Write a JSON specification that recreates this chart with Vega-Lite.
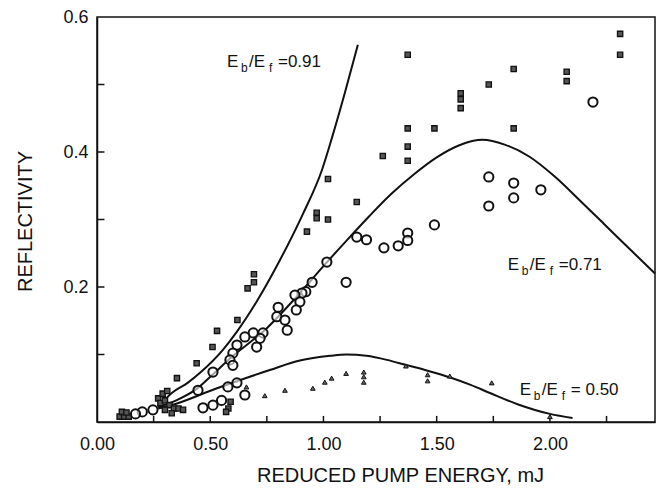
{
  "$schema": "https://vega.github.io/schema/vega-lite/v6.json",
  "width": 558,
  "height": 405,
  "autosize": {"type": "none"},
  "padding": {"left": 97, "top": 17, "right": 8, "bottom": 67},
  "background": "white",
  "config": {
    "view": {"stroke": "#111", "strokeWidth": 1.5},
    "axis": {"domainColor": "#111", "domainWidth": 1.5, "ticks": false, "grid": false,
      "labelFont": "Liberation Sans", "labelFontSize": 18, "labelColor": "#111",
      "titleFont": "Liberation Sans", "titleFontSize": 20, "titleFontWeight": "normal", "titleColor": "#111"}
  },
  "datasets": {
    "points": [
      {"sym": "square", "x": 1.372, "y": 0.544}, {"sym": "square", "x": 1.84, "y": 0.523}, {"sym": "square", "x": 1.73, "y": 0.50},
      {"sym": "square", "x": 2.074, "y": 0.519}, {"sym": "square", "x": 2.074, "y": 0.505}, {"sym": "square", "x": 2.31, "y": 0.575},
      {"sym": "square", "x": 2.31, "y": 0.544}, {"sym": "square", "x": 1.606, "y": 0.487}, {"sym": "square", "x": 1.606, "y": 0.478},
      {"sym": "square", "x": 1.606, "y": 0.465}, {"sym": "square", "x": 1.372, "y": 0.435}, {"sym": "square", "x": 1.49, "y": 0.435},
      {"sym": "square", "x": 1.84, "y": 0.435}, {"sym": "square", "x": 1.372, "y": 0.408}, {"sym": "square", "x": 1.372, "y": 0.387},
      {"sym": "square", "x": 1.262, "y": 0.394}, {"sym": "square", "x": 1.147, "y": 0.326}, {"sym": "square", "x": 1.02, "y": 0.36},
      {"sym": "square", "x": 0.97, "y": 0.31}, {"sym": "square", "x": 0.97, "y": 0.302}, {"sym": "square", "x": 1.02, "y": 0.30},
      {"sym": "square", "x": 0.927, "y": 0.282}, {"sym": "square", "x": 0.693, "y": 0.219}, {"sym": "square", "x": 0.693, "y": 0.207},
      {"sym": "square", "x": 0.665, "y": 0.198}, {"sym": "square", "x": 0.62, "y": 0.151}, {"sym": "square", "x": 0.53, "y": 0.135},
      {"sym": "square", "x": 0.51, "y": 0.111}, {"sym": "square", "x": 0.44, "y": 0.087}, {"sym": "square", "x": 0.353, "y": 0.065},
      {"sym": "square", "x": 0.10, "y": 0.008}, {"sym": "square", "x": 0.12, "y": 0.008}, {"sym": "square", "x": 0.14, "y": 0.008},
      {"sym": "square", "x": 0.11, "y": 0.015}, {"sym": "square", "x": 0.13, "y": 0.014}, {"sym": "square", "x": 0.27, "y": 0.035},
      {"sym": "square", "x": 0.29, "y": 0.042}, {"sym": "square", "x": 0.31, "y": 0.046}, {"sym": "square", "x": 0.28, "y": 0.028},
      {"sym": "square", "x": 0.30, "y": 0.032}, {"sym": "square", "x": 0.32, "y": 0.025}, {"sym": "square", "x": 0.30, "y": 0.018},
      {"sym": "square", "x": 0.34, "y": 0.02}, {"sym": "square", "x": 0.36, "y": 0.02}, {"sym": "square", "x": 0.38, "y": 0.018},
      {"sym": "square", "x": 0.33, "y": 0.013}, {"sym": "square", "x": 0.58, "y": 0.02}, {"sym": "square", "x": 0.59, "y": 0.03},
      {"sym": "square", "x": 0.57, "y": 0.015},
      {"sym": "circle", "x": 2.19, "y": 0.474}, {"sym": "circle", "x": 1.73, "y": 0.363}, {"sym": "circle", "x": 1.84, "y": 0.354},
      {"sym": "circle", "x": 1.84, "y": 0.332}, {"sym": "circle", "x": 1.96, "y": 0.344}, {"sym": "circle", "x": 1.73, "y": 0.32},
      {"sym": "circle", "x": 1.49, "y": 0.292}, {"sym": "circle", "x": 1.147, "y": 0.274}, {"sym": "circle", "x": 1.19, "y": 0.27},
      {"sym": "circle", "x": 1.267, "y": 0.258}, {"sym": "circle", "x": 1.33, "y": 0.261}, {"sym": "circle", "x": 1.372, "y": 0.28},
      {"sym": "circle", "x": 1.372, "y": 0.269}, {"sym": "circle", "x": 1.10, "y": 0.207}, {"sym": "circle", "x": 1.015, "y": 0.237},
      {"sym": "circle", "x": 0.95, "y": 0.207}, {"sym": "circle", "x": 0.922, "y": 0.193}, {"sym": "circle", "x": 0.905, "y": 0.191},
      {"sym": "circle", "x": 0.874, "y": 0.188}, {"sym": "circle", "x": 0.896, "y": 0.178}, {"sym": "circle", "x": 0.88, "y": 0.166},
      {"sym": "circle", "x": 0.80, "y": 0.17}, {"sym": "circle", "x": 0.794, "y": 0.156}, {"sym": "circle", "x": 0.83, "y": 0.151},
      {"sym": "circle", "x": 0.84, "y": 0.136}, {"sym": "circle", "x": 0.733, "y": 0.132}, {"sym": "circle", "x": 0.72, "y": 0.124},
      {"sym": "circle", "x": 0.69, "y": 0.132}, {"sym": "circle", "x": 0.653, "y": 0.126}, {"sym": "circle", "x": 0.618, "y": 0.114},
      {"sym": "circle", "x": 0.705, "y": 0.111}, {"sym": "circle", "x": 0.60, "y": 0.102}, {"sym": "circle", "x": 0.587, "y": 0.092},
      {"sym": "circle", "x": 0.60, "y": 0.084}, {"sym": "circle", "x": 0.512, "y": 0.074}, {"sym": "circle", "x": 0.446, "y": 0.047},
      {"sym": "circle", "x": 0.247, "y": 0.018}, {"sym": "circle", "x": 0.20, "y": 0.015}, {"sym": "circle", "x": 0.17, "y": 0.012},
      {"sym": "circle", "x": 0.468, "y": 0.021}, {"sym": "circle", "x": 0.512, "y": 0.025}, {"sym": "circle", "x": 0.578, "y": 0.052},
      {"sym": "circle", "x": 0.618, "y": 0.058}, {"sym": "circle", "x": 0.653, "y": 0.04}, {"sym": "circle", "x": 0.55, "y": 0.032},
      {"sym": "triangle", "x": 0.741, "y": 0.039}, {"sym": "triangle", "x": 0.83, "y": 0.047}, {"sym": "triangle", "x": 0.953, "y": 0.05},
      {"sym": "triangle", "x": 1.006, "y": 0.059}, {"sym": "triangle", "x": 1.036, "y": 0.065}, {"sym": "triangle", "x": 1.10, "y": 0.072},
      {"sym": "triangle", "x": 1.178, "y": 0.074}, {"sym": "triangle", "x": 1.178, "y": 0.067}, {"sym": "triangle", "x": 1.178, "y": 0.059},
      {"sym": "triangle", "x": 1.364, "y": 0.083}, {"sym": "triangle", "x": 1.46, "y": 0.07}, {"sym": "triangle", "x": 1.46, "y": 0.061},
      {"sym": "triangle", "x": 1.558, "y": 0.068}, {"sym": "triangle", "x": 1.743, "y": 0.058}, {"sym": "triangle", "x": 2.0, "y": 0.008},
      {"sym": "triangle", "x": 0.66, "y": 0.052}
    ],
    "curves": [
      {"c": "0.91", "x": 0.27, "y": 0.022}, {"c": "0.91", "x": 0.33, "y": 0.043}, {"c": "0.91", "x": 0.40, "y": 0.058},
      {"c": "0.91", "x": 0.455, "y": 0.073}, {"c": "0.91", "x": 0.556, "y": 0.107}, {"c": "0.91", "x": 0.618, "y": 0.134},
      {"c": "0.91", "x": 0.706, "y": 0.179}, {"c": "0.91", "x": 0.808, "y": 0.24}, {"c": "0.91", "x": 0.909, "y": 0.308},
      {"c": "0.91", "x": 0.993, "y": 0.373}, {"c": "0.91", "x": 1.041, "y": 0.425}, {"c": "0.91", "x": 1.094, "y": 0.487},
      {"c": "0.91", "x": 1.152, "y": 0.559},
      {"c": "0.71", "x": 0.27, "y": 0.022}, {"c": "0.71", "x": 0.35, "y": 0.032}, {"c": "0.71", "x": 0.44, "y": 0.049},
      {"c": "0.71", "x": 0.51, "y": 0.07}, {"c": "0.71", "x": 0.587, "y": 0.094}, {"c": "0.71", "x": 0.75, "y": 0.139},
      {"c": "0.71", "x": 0.88, "y": 0.185}, {"c": "0.71", "x": 1.0, "y": 0.231}, {"c": "0.71", "x": 1.1, "y": 0.268},
      {"c": "0.71", "x": 1.2, "y": 0.304}, {"c": "0.71", "x": 1.3, "y": 0.338}, {"c": "0.71", "x": 1.4, "y": 0.367},
      {"c": "0.71", "x": 1.5, "y": 0.392}, {"c": "0.71", "x": 1.6, "y": 0.41}, {"c": "0.71", "x": 1.703, "y": 0.418},
      {"c": "0.71", "x": 1.80, "y": 0.411}, {"c": "0.71", "x": 1.91, "y": 0.393}, {"c": "0.71", "x": 2.02, "y": 0.364},
      {"c": "0.71", "x": 2.13, "y": 0.329}, {"c": "0.71", "x": 2.24, "y": 0.293}, {"c": "0.71", "x": 2.35, "y": 0.257},
      {"c": "0.71", "x": 2.464, "y": 0.22},
      {"c": "0.50", "x": 0.27, "y": 0.02}, {"c": "0.50", "x": 0.32, "y": 0.024}, {"c": "0.50", "x": 0.53, "y": 0.05},
      {"c": "0.50", "x": 0.763, "y": 0.077}, {"c": "0.50", "x": 0.896, "y": 0.091}, {"c": "0.50", "x": 1.03, "y": 0.098},
      {"c": "0.50", "x": 1.10, "y": 0.1}, {"c": "0.50", "x": 1.19, "y": 0.098}, {"c": "0.50", "x": 1.28, "y": 0.092},
      {"c": "0.50", "x": 1.37, "y": 0.084}, {"c": "0.50", "x": 1.46, "y": 0.076}, {"c": "0.50", "x": 1.56, "y": 0.066},
      {"c": "0.50", "x": 1.65, "y": 0.055}, {"c": "0.50", "x": 1.735, "y": 0.043}, {"c": "0.50", "x": 1.86, "y": 0.026},
      {"c": "0.50", "x": 2.0, "y": 0.012}, {"c": "0.50", "x": 2.1, "y": 0.006}
    ],
    "labels": [
      {"x": 0.574, "y": 0.533, "val": "=0.91"},
      {"x": 1.814, "y": 0.233, "val": "=0.71"},
      {"x": 1.867, "y": 0.047, "val": "= 0.50"}
    ],
    "xticks": [
      {"x": 0.25, "y": 0}, {"x": 0.5, "y": 0}, {"x": 0.75, "y": 0}, {"x": 1.0, "y": 0}, {"x": 1.25, "y": 0},
      {"x": 1.5, "y": 0}, {"x": 1.75, "y": 0}, {"x": 2.0, "y": 0}, {"x": 2.25, "y": 0}
    ],
    "yticks": [
      {"x": 0, "y": 0.1}, {"x": 0, "y": 0.2}, {"x": 0, "y": 0.3}, {"x": 0, "y": 0.4}, {"x": 0, "y": 0.5}
    ]
  },
  "encoding": {
    "x": {"field": "x", "type": "quantitative", "scale": {"domain": [0, 2.464], "nice": false, "zero": false},
      "axis": {"title": "REDUCED PUMP ENERGY, mJ", "values": [0, 0.5, 1, 1.5, 2], "format": ".2f",
        "labelPadding": 13, "labelFlush": false, "labelOverlap": false,
        "titleX": 303, "titleY": 53, "titleBaseline": "middle", "titleAlign": "center"}},
    "y": {"field": "y", "type": "quantitative", "scale": {"domain": [0, 0.6], "nice": false},
      "axis": {"title": "REFLECTIVITY", "values": [0.2, 0.4, 0.6], "format": ".1f",
        "labelPadding": 9, "labelFlush": false, "labelOverlap": false,
        "titleX": -72, "titleY": 204, "titleBaseline": "middle", "titleAlign": "center", "titleAngle": -90}}
  },
  "layer": [
    {"data": {"name": "xticks"}, "mark": {"type": "rule", "color": "#111", "strokeWidth": 1.5},
      "encoding": {"y2": {"datum": 0.009}}},
    {"data": {"name": "yticks"}, "mark": {"type": "rule", "color": "#111", "strokeWidth": 1.5},
      "encoding": {"x2": {"datum": 0.033}}},
    {"data": {"name": "curves"}, "mark": {"type": "line", "color": "#111", "strokeWidth": 2, "interpolate": "monotone"},
      "encoding": {"detail": {"field": "c"}}},
    {"data": {"name": "points"}, "transform": [{"filter": "datum.sym == 'square'"}],
      "mark": {"type": "point", "shape": "square", "size": 28, "filled": true, "fill": "#555", "stroke": "#111", "strokeWidth": 1.3, "opacity": 1}},
    {"data": {"name": "points"}, "transform": [{"filter": "datum.sym == 'circle'"}],
      "mark": {"type": "point", "shape": "circle", "size": 85, "filled": false, "fill": "white", "fillOpacity": 0.6, "stroke": "#111", "strokeWidth": 2, "opacity": 1}},
    {"data": {"name": "points"}, "transform": [{"filter": "datum.sym == 'triangle'"}],
      "mark": {"type": "point", "shape": "triangle-up", "size": 22, "filled": true, "fill": "#666", "stroke": "#111", "strokeWidth": 1, "opacity": 1}},
    {"data": {"name": "labels"}, "mark": {"type": "text", "text": "E", "align": "left", "baseline": "middle", "font": "Liberation Sans", "fontSize": 17, "color": "#111"}},
    {"data": {"name": "labels"}, "mark": {"type": "text", "text": "b", "align": "left", "baseline": "middle", "dx": 14, "dy": 6, "font": "Liberation Sans", "fontSize": 12, "color": "#111"}},
    {"data": {"name": "labels"}, "mark": {"type": "text", "text": "/E", "align": "left", "baseline": "middle", "dx": 22, "font": "Liberation Sans", "fontSize": 17, "color": "#111"}},
    {"data": {"name": "labels"}, "mark": {"type": "text", "text": "f", "align": "left", "baseline": "middle", "dx": 42, "dy": 6, "font": "Liberation Sans", "fontSize": 12, "color": "#111"}},
    {"data": {"name": "labels"}, "mark": {"type": "text", "align": "left", "baseline": "middle", "dx": 51, "font": "Liberation Sans", "fontSize": 17, "color": "#111"},
      "encoding": {"text": {"field": "val"}}}
  ]
}
